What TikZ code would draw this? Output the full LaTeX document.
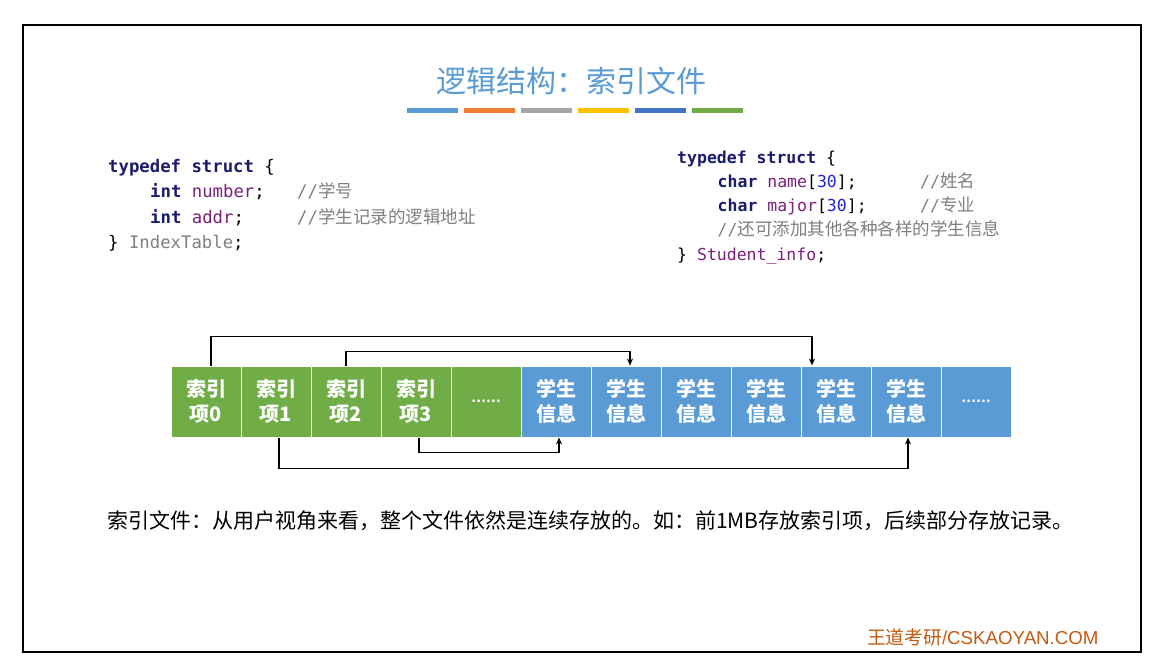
\documentclass[tikz,border=0pt]{standalone}
\usepackage{fontspec}
\newfontfamily\cjk{Noto Sans CJK SC}
\newfontfamily\mono{DejaVu Sans Mono}
\newfontfamily\arial{Liberation Sans}
\usetikzlibrary{arrows.meta}
\definecolor{tblue}{HTML}{5B9BD5}
\definecolor{torange}{HTML}{ED7D31}
\definecolor{tgray}{HTML}{A5A5A5}
\definecolor{tgold}{HTML}{FFC000}
\definecolor{tdblue}{HTML}{4472C4}
\definecolor{tgreen}{HTML}{70AD47}
\definecolor{kwc}{HTML}{1B1B6E}
\definecolor{idc}{HTML}{7A1F7A}
\definecolor{numc}{HTML}{2323D0}
\definecolor{cmc}{HTML}{808080}
\definecolor{wmc}{HTML}{C55A11}
\newcommand{\kw}[1]{{\bfseries\color{kwc}#1}}
\newcommand{\idf}[1]{{\color{idc}#1}}
\newcommand{\nm}[1]{{\color{numc}#1}}
\newcommand{\cm}[1]{{\color{cmc}//{\cjk\fontsize{17.5}{20}\selectfont #1}}}
\tikzset{
  codeL/.style={anchor=base west,inner sep=0pt,font=\mono\fontsize{17.3}{20}\selectfont},
  codeR/.style={anchor=base west,inner sep=0pt,font=\mono\fontsize{16.5}{20}\selectfont},
  cellbox/.style={minimum width=70pt,minimum height=71pt,inner sep=0pt,draw=white,line width=1pt,
    align=center,text=white,font=\cjk\bfseries\fontsize{20}{25}\selectfont},
  gbox/.style={cellbox,fill=tgreen},
  bbox/.style={cellbox,fill=tblue},
  arr/.style={line width=1.4pt,-{Stealth[length=7pt,width=6pt]}},
  bar/.style={line width=5pt}
}
\begin{document}
\begin{tikzpicture}[x=1pt,y=-1pt]
\path[fill=white] (0,0) rectangle (1157,665);
\useasboundingbox (0,0) rectangle (1157,665);
% frame
\draw[line width=2.5pt] (23,25) rectangle (1141,652);
% title
\node[text=tblue,font=\cjk\fontsize{30}{34}\selectfont] (title) at (571,81) {逻辑结构：索引文件};
% color bars
\foreach \c [count=\i from 0] in {tblue,torange,tgray,tgold,tdblue,tgreen}
  \draw[bar,\c] (407+57*\i,110) -- ++(51,0);
% left code
\node[codeL] (l1) at (108,172) {\kw{typedef struct} \{};
\node[codeL] (l2) at (150,197.5) {\kw{int} \idf{number};};
\node[codeL] (l2c) at (297,197.5) {\cm{学号}};
\node[codeL] (l3) at (150,223) {\kw{int} \idf{addr};};
\node[codeL] (l3c) at (297,223) {\cm{学生记录的逻辑地址}};
\node[codeL] (l4) at (108,248) {\} {\color{cmc}IndexTable};};
% right code
\node[codeR] (r1) at (677,163) {\kw{typedef struct} \{};
\node[codeR] (r2) at (717.5,187) {\kw{char} \idf{name}[\nm{30}];};
\node[codeR] (r2c) at (920,187) {\cm{姓名}};
\node[codeR] (r3) at (717.5,211.5) {\kw{char} \idf{major}[\nm{30}];};
\node[codeR] (r3c) at (920,211.5) {\cm{专业}};
\node[codeR] (r4) at (717.5,235.5) {\cm{还可添加其他各种各样的学生信息}};
\node[codeR] (r5) at (677,260) {\} \idf{Student\_info};};
% boxes
\node[gbox] (b0) at (206,401.5) {索引\\项0};
\node[gbox] (b1) at (276,401.5) {索引\\项1};
\node[gbox] (b2) at (346,401.5) {索引\\项2};
\node[gbox] (b3) at (416,401.5) {索引\\项3};
\node[gbox] (b4) at (486,401.5) {\fontsize{13}{14}\selectfont ……};
\foreach \i [evaluate=\i as \xx using 556+70*(\i-5)] in {5,...,10}
  \node[bbox] (b\i) at (\xx,401.5) {学生\\信息};
\node[bbox] (b11) at (976,401.5) {\fontsize{13}{14}\selectfont ……};
% connectors
\draw[arr] ([xshift=5pt]b0.north) -- ++(0,-29) -| ([xshift=-24pt]b9.north);
\draw[arr] (b2.north) -- ++(0,-14) -| ([xshift=4pt]b6.north);
\draw[arr] ([xshift=3pt]b1.south) -- ++(0,31) -| ([xshift=2pt]b10.south);
\draw[arr] ([xshift=3pt]b3.south) -- ++(0,15) -| ([xshift=3pt]b5.south);
% bottom text
\node[anchor=west,inner sep=0pt,font=\cjk\fontsize{21}{24}\selectfont] (note) at (107,521)
  {索引文件：从用户视角来看，整个文件依然是连续存放的。如：前1MB存放索引项，后续部分存放记录。};
% watermark
\node[anchor=west,inner sep=0pt,text=wmc,font=\arial\fontsize{18.7}{20}\selectfont] (wm) at (867,637)
  {{\cjk 王道考研}/CSKAOYAN.COM};
\end{tikzpicture}
\end{document}
